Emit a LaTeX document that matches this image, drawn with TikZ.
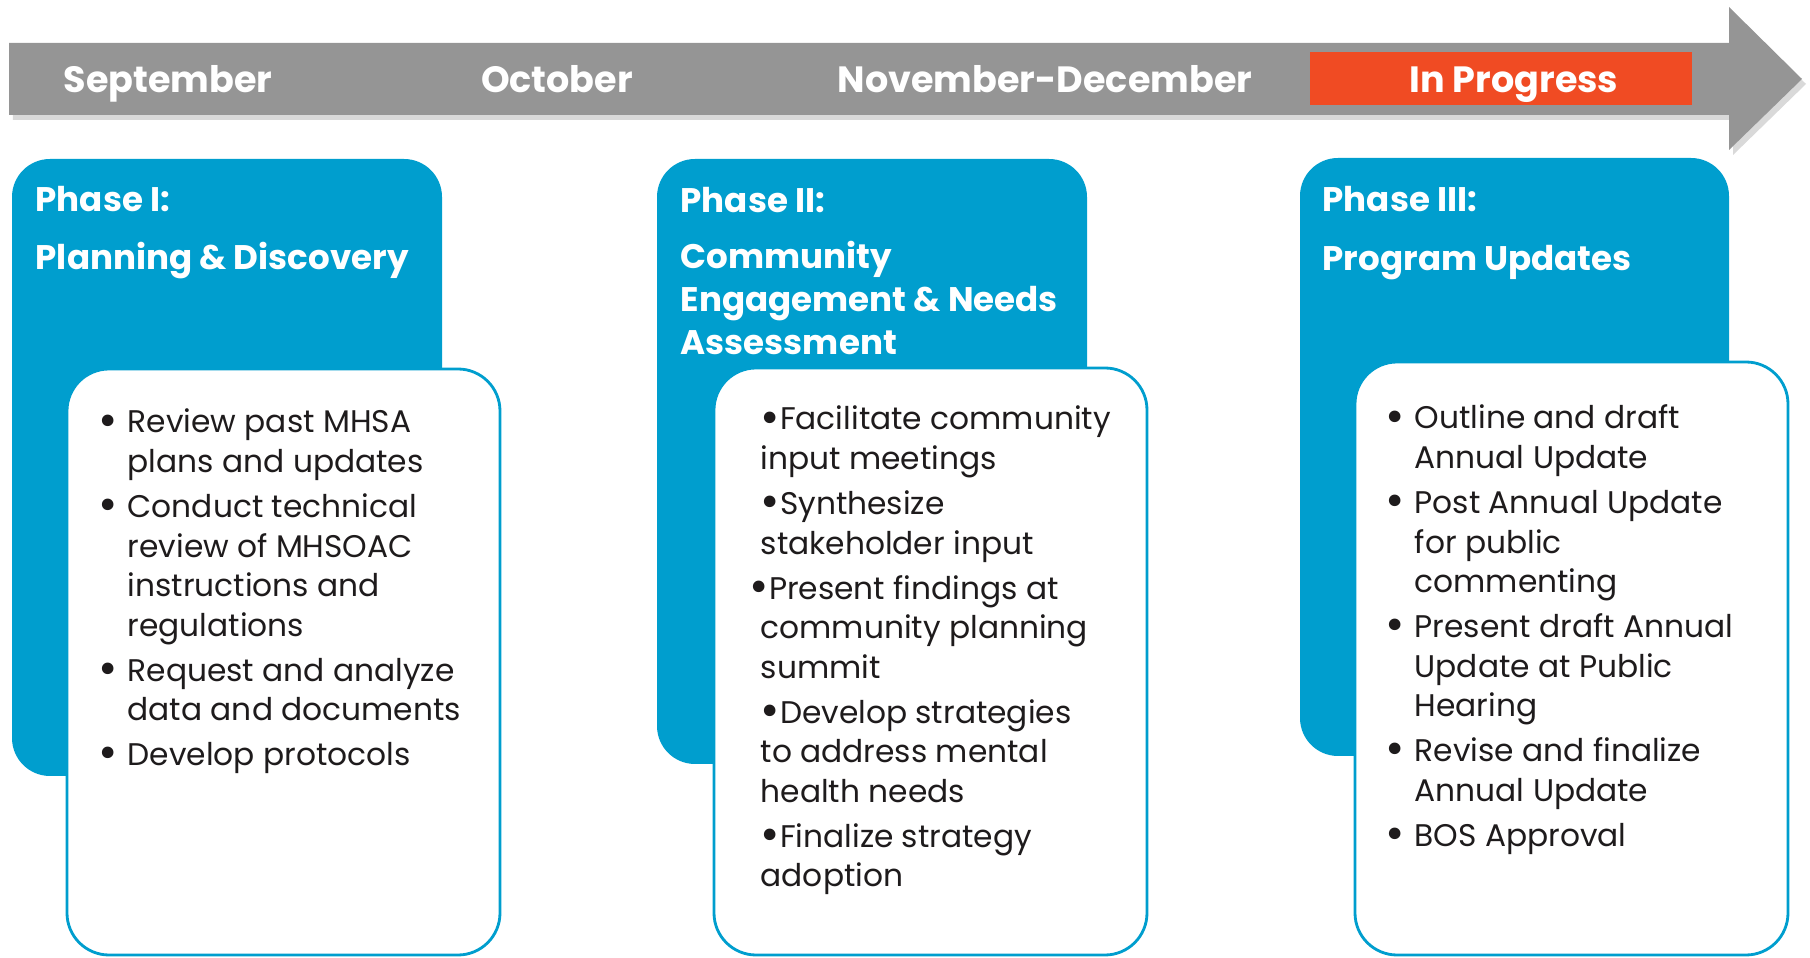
\documentclass[tikz,border=0pt]{standalone}
\usepackage{fontspec}
\setmainfont{Poppins}
\usetikzlibrary{shadows}

\definecolor{bandgray}{RGB}{149,149,149}
\definecolor{progred}{RGB}{240,75,35}
\definecolor{phaseblue}{RGB}{0,158,206}
\definecolor{bodytxt}{RGB}{30,27,28}

\newcommand{\bul}{\raisebox{-0.2ex}{\scalebox{1.5}{\textbullet}}}
\newcommand{\itm}[1]{\par\hangindent=2.5mm\hangafter=1\noindent\makebox[2.5mm][l]{\hspace*{-0.4mm}\bul}#1\par}
\newcommand{\lst}[1]{\begin{minipage}[t]{40mm}\setlength{\parskip}{0.55mm}\setlength{\parindent}{0pt}#1\end{minipage}}

\begin{document}
\begin{tikzpicture}[x=0.1mm,y=-0.1mm]
    \tikzstyle{month}=[anchor=base, inner sep=0, text=white, font=\fontsize{10.4}{12}\selectfont\bfseries]
    \tikzstyle{phase}=[fill=phaseblue, rounded corners=3.8mm]
    \tikzstyle{card}=[fill=white, draw=phaseblue, line width=0.8pt, rounded corners=4.2mm]
    \tikzstyle{head}=[anchor=base west, inner sep=0, text=white, font=\fontsize{9.7}{12.1}\selectfont\bfseries]
    \tikzstyle{list}=[anchor=base west, inner sep=0, text=bodytxt, font=\fontsize{8.9}{11.24}\selectfont]
    \useasboundingbox (0,0) rectangle (1810,958);
    % timeline arrow
    \fill[bandgray, drop shadow={shadow xshift=0.4mm, shadow yshift=-0.5mm, opacity=0.3}]
        (9,43) -- (1729,43) -- (1729,7) -- (1802,79) -- (1729,150) -- (1729,115) -- (9,115) -- cycle;
    \fill[progred] (1310,52) rectangle (1692,105);
    \node[month] (sep) at (168,93) {September};
    \node[month] (oct) at (557,93) {October};
    \node[month] (nov) at (1045,93) {November-December};
    \node[month] (prog) at (1514,93) {In Progress};
    % phase I
    \fill[phase] (12,159) rectangle (442,776);
    \draw[card] (67,369) rectangle (500,955);
    \node[head] (ph1) at (35,212) {Phase I:};
    \node[head] (ti1) at (35,270) {Planning \& Discovery};
    \node[list] (li1) at (102,433) {\lst{%
        \itm{Review past MHSA\newline plans and updates}
        \itm{Conduct technical\newline review of MHSOAC\newline instructions and\newline regulations}
        \itm{Request and analyze\newline data and documents}
        \itm{Develop protocols}}};
    % phase II
    \fill[phase] (657,159) rectangle (1087,764);
    \draw[card] (714,368) rectangle (1147,955);
    \node[head] (ph2) at (680,213) {Phase II:};
    \node[head] (ti2) at (680,269) {\begin{tabular}[t]{@{}l@{}}Community\\ Engagement \& Needs\\ Assessment\end{tabular}};
    \node[list] (li2) at (760,430) {\lst{%
        \bul Facilitate community\newline input meetings\par
        \bul Synthesize\newline stakeholder input\par
        \hspace*{-1.1mm}\bul Present findings at\newline community planning\newline summit\par
        \bul Develop strategies\newline to address mental\newline health needs\par
        \bul Finalize strategy\newline adoption}};
    % phase III
    \fill[phase] (1300,158) rectangle (1729,756);
    \draw[card] (1355,362) rectangle (1788,955);
    \node[head] (ph3) at (1322,212) {Phase III:};
    \node[head] (ti3) at (1322,271) {Program Updates};
    \node[list] (li3) at (1389,429) {\lst{%
        \itm{Outline and draft\newline Annual Update}
        \itm{Post Annual Update\newline for public\newline commenting}
        \itm{Present draft Annual\newline Update at Public\newline Hearing}
        \itm{Revise and finalize\newline Annual Update}
        \itm{BOS Approval}}};
\end{tikzpicture}
\end{document}
